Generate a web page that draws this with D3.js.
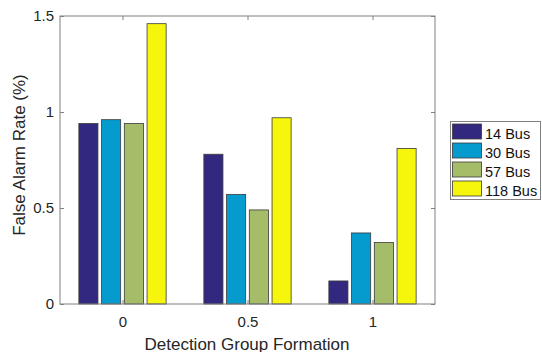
<!DOCTYPE html>
<html>
<head>
<meta charset="utf-8">
<script src="https://cdn.jsdelivr.net/npm/d3@7"></script>
<style>
  html, body { margin: 0; padding: 0; background: #fff; }
  svg { display: block; font-family: "Liberation Sans", Arial, sans-serif; }
</style>
</head>
<body>
<svg id="chart" width="542" height="352"></svg>
<script>
// Detection group formation settings on the x axis
const formations = [0, 0.5, 1];
// Test systems shown as the grouped series
const systems = ["14 Bus", "30 Bus", "57 Bus", "118 Bus"];
// False alarm rate (%) for each system, one value per formation
const bus14 = [0.94, 0.78, 0.12];
const bus30 = [0.96, 0.57, 0.37];
const bus57 = [0.94, 0.49, 0.32];
const bus118 = [1.46, 0.97, 0.81];
const yTicks = [0, 0.5, 1, 1.5];
const yTickLabels = ["0", "0.5", "1", "1.5"];
const xTickLabels = ["0", "0.5", "1"];
const colors = ["#33287f", "#069bcf", "#a5bd68", "#f6f50c"];

const seriesValues = [bus14, bus30, bus57, bus118];

const svg = d3.select("#chart");
const m = { left: 60, right: 435, top: 16, bottom: 304 };

const x = d3.scaleLinear().domain([-0.25, 1.25]).range([m.left, m.right]);
const y = d3.scaleLinear().domain([0, 1.5]).range([m.bottom, m.top]);

// grouped bar geometry in data units
const groupWidth = 0.5 * 4 / 5.5;
const slot = groupWidth / systems.length;
const barW = slot * 0.84;

const textColor = "#262626";
const axisColor = "#808080";

// bars
systems.forEach((name, si) => {
  svg.append("g")
    .selectAll("rect")
    .data(seriesValues[si].map((v, i) => ({ f: formations[i], v })))
    .join("rect")
    .attr("x", d => x(d.f - groupWidth / 2 + slot * si + (slot - barW) / 2))
    .attr("width", d => x(barW) - x(0))
    .attr("y", d => y(d.v))
    .attr("height", d => y(0) - y(d.v))
    .attr("fill", colors[si])
    .attr("stroke", "#3a3a3a")
    .attr("stroke-width", 0.8);
});

// axes box with inward ticks on all four sides
const tickLen = 4;
const bottomAxis = d3.axisBottom(x).tickValues(formations)
  .tickFormat((d, i) => xTickLabels[i]).tickSize(-tickLen).tickPadding(12);
const topAxis = d3.axisTop(x).tickValues(formations).tickFormat("").tickSize(-tickLen);
const leftAxis = d3.axisLeft(y).tickValues(yTicks)
  .tickFormat((d, i) => yTickLabels[i]).tickSize(-tickLen).tickPadding(6);
const rightAxis = d3.axisRight(y).tickValues(yTicks).tickFormat("").tickSize(-tickLen);

function style(g) {
  g.selectAll(".domain").attr("stroke", axisColor).attr("stroke-width", 1);
  g.selectAll(".tick line").attr("stroke", axisColor);
  g.selectAll("text").attr("fill", textColor).attr("font-size", 15)
    .attr("font-family", "Liberation Sans, Arial, sans-serif");
}

svg.append("g").attr("transform", `translate(0,${m.bottom})`).call(bottomAxis).call(style);
svg.append("g").attr("transform", `translate(0,${m.top})`).call(topAxis).call(style);
svg.append("g").attr("transform", `translate(${m.left},0)`).call(leftAxis).call(style);
svg.append("g").attr("transform", `translate(${m.right},0)`).call(rightAxis).call(style);
svg.selectAll(".domain").attr("d", null);
svg.append("rect")
  .attr("x", m.left).attr("y", m.top)
  .attr("width", m.right - m.left).attr("height", m.bottom - m.top)
  .attr("fill", "none").attr("stroke", axisColor).attr("stroke-width", 1);

// axis titles
svg.append("text")
  .attr("x", 247).attr("y", 349.5)
  .attr("text-anchor", "middle").attr("font-size", 17).attr("fill", textColor)
  .text("Detection Group Formation");
svg.append("text")
  .attr("transform", `translate(25,155) rotate(-90)`)
  .attr("text-anchor", "middle").attr("font-size", 17).attr("fill", textColor)
  .text("False Alarm Rate (%)");

// legend
const lg = svg.append("g");
lg.append("rect")
  .attr("x", 450.5).attr("y", 121.5).attr("width", 90).attr("height", 78)
  .attr("fill", "#fff").attr("stroke", axisColor);
systems.forEach((name, i) => {
  const ry = 124 + i * 19;
  lg.append("rect")
    .attr("x", 452.5).attr("y", ry).attr("width", 29).attr("height", 15)
    .attr("fill", colors[i]).attr("stroke", "#3a3a3a").attr("stroke-width", 0.8);
  lg.append("text")
    .attr("x", 485).attr("y", ry + 14.5)
    .attr("font-size", 14.5).attr("fill", "#111")
    .text(name);
});
</script>
</body>
</html>
